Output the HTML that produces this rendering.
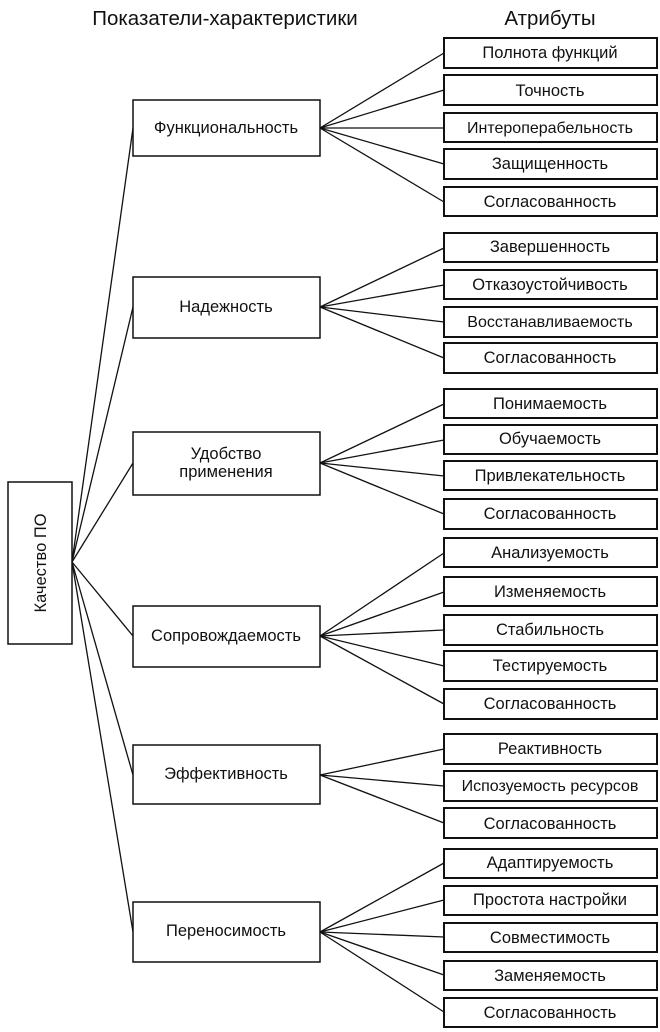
<!DOCTYPE html>
<html><head><meta charset="utf-8"><style>
html,body{margin:0;padding:0;background:#fff}
svg{display:block}
text{font-family:"Liberation Sans",sans-serif;font-size:16.5px;fill:#111;text-anchor:middle}
</style></head><body>
<svg width="660" height="1032" viewBox="0 0 660 1032" xmlns="http://www.w3.org/2000/svg">
<g stroke="#111" stroke-width="1.3" fill="none">
<line x1="72" y1="562" x2="133" y2="128"/>
<line x1="72" y1="562" x2="133" y2="307"/>
<line x1="72" y1="562" x2="133" y2="463"/>
<line x1="72" y1="562" x2="133" y2="636"/>
<line x1="72" y1="562" x2="133" y2="775"/>
<line x1="72" y1="562" x2="133" y2="932"/>
<line x1="320" y1="128" x2="444" y2="53"/>
<line x1="320" y1="128" x2="444" y2="90"/>
<line x1="320" y1="128" x2="444" y2="128"/>
<line x1="320" y1="128" x2="444" y2="164"/>
<line x1="320" y1="128" x2="444" y2="202"/>
<line x1="320" y1="307" x2="444" y2="248"/>
<line x1="320" y1="307" x2="444" y2="285"/>
<line x1="320" y1="307" x2="444" y2="322"/>
<line x1="320" y1="307" x2="444" y2="358"/>
<line x1="320" y1="463" x2="444" y2="404"/>
<line x1="320" y1="463" x2="444" y2="440"/>
<line x1="320" y1="463" x2="444" y2="476"/>
<line x1="320" y1="463" x2="444" y2="514"/>
<line x1="320" y1="636" x2="444" y2="553"/>
<line x1="320" y1="636" x2="444" y2="592"/>
<line x1="320" y1="636" x2="444" y2="630"/>
<line x1="320" y1="636" x2="444" y2="666"/>
<line x1="320" y1="636" x2="444" y2="704"/>
<line x1="320" y1="775" x2="444" y2="749"/>
<line x1="320" y1="775" x2="444" y2="786"/>
<line x1="320" y1="775" x2="444" y2="823"/>
<line x1="320" y1="932" x2="444" y2="863"/>
<line x1="320" y1="932" x2="444" y2="900"/>
<line x1="320" y1="932" x2="444" y2="937"/>
<line x1="320" y1="932" x2="444" y2="975"/>
<line x1="320" y1="932" x2="444" y2="1012"/>
</g>
<g stroke="#111" stroke-width="1.5" fill="#fff">
<rect x="8" y="482" width="64" height="162"/>
<rect x="133" y="100" width="187" height="56"/>
<rect x="133" y="277" width="187" height="61"/>
<rect x="133" y="432" width="187" height="63"/>
<rect x="133" y="606" width="187" height="61"/>
<rect x="133" y="745" width="187" height="59"/>
<rect x="133" y="902" width="187" height="60"/>
</g>
<g stroke="#111" stroke-width="2" fill="#fff">
<rect x="444" y="38" width="213" height="30"/>
<rect x="444" y="75" width="213" height="30"/>
<rect x="444" y="113" width="213" height="29"/>
<rect x="444" y="149" width="213" height="30"/>
<rect x="444" y="187" width="213" height="29"/>
<rect x="444" y="233" width="213" height="29"/>
<rect x="444" y="270" width="213" height="29"/>
<rect x="444" y="307" width="213" height="30"/>
<rect x="444" y="343" width="213" height="30"/>
<rect x="444" y="389" width="213" height="29"/>
<rect x="444" y="425" width="213" height="29"/>
<rect x="444" y="461" width="213" height="29"/>
<rect x="444" y="499" width="213" height="30"/>
<rect x="444" y="538" width="213" height="29"/>
<rect x="444" y="577" width="213" height="29"/>
<rect x="444" y="615" width="213" height="30"/>
<rect x="444" y="651" width="213" height="30"/>
<rect x="444" y="689" width="213" height="30"/>
<rect x="444" y="734" width="213" height="30"/>
<rect x="444" y="771" width="213" height="30"/>
<rect x="444" y="808" width="213" height="30"/>
<rect x="444" y="849" width="213" height="29"/>
<rect x="444" y="886" width="213" height="29"/>
<rect x="444" y="923" width="213" height="29"/>
<rect x="444" y="961" width="213" height="29"/>
<rect x="444" y="998" width="213" height="29"/>
</g>
<text x="225" y="25" style="font-size:20.5px">Показатели-характеристики</text>
<text x="550" y="25" style="font-size:20.5px">Атрибуты</text>
<text transform="translate(46,563) rotate(-90)">Качество  ПО</text>
<text x="226" y="133">Функциональность</text>
<text x="226" y="312">Надежность</text>
<text x="226" y="459">Удобство</text>
<text x="226" y="477">применения</text>
<text x="226" y="641">Сопровождаемость</text>
<text x="226" y="779">Эффективность</text>
<text x="226" y="936">Переносимость</text>
<g>
<text x="550" y="58">Полнота функций</text>
<text x="550" y="96">Точность</text>
<text x="550" y="133" style="font-size:16px">Интероперабельность</text>
<text x="550" y="169">Защищенность</text>
<text x="550" y="207">Согласованность</text>
<text x="550" y="252">Завершенность</text>
<text x="550" y="290">Отказоустойчивость</text>
<text x="550" y="327" style="font-size:16px">Восстанавливаемость</text>
<text x="550" y="363">Согласованность</text>
<text x="550" y="409">Понимаемость</text>
<text x="550" y="444">Обучаемость</text>
<text x="550" y="481">Привлекательность</text>
<text x="550" y="519">Согласованность</text>
<text x="550" y="558">Анализуемость</text>
<text x="550" y="597">Изменяемость</text>
<text x="550" y="635">Стабильность</text>
<text x="550" y="671">Тестируемость</text>
<text x="550" y="709">Согласованность</text>
<text x="550" y="754">Реактивность</text>
<text x="550" y="791" style="font-size:16px">Испозуемость  ресурсов</text>
<text x="550" y="829">Согласованность</text>
<text x="550" y="868">Адаптируемость</text>
<text x="550" y="905">Простота настройки</text>
<text x="550" y="943">Совместимость</text>
<text x="550" y="981">Заменяемость</text>
<text x="550" y="1018">Согласованность</text>
</g>
</svg>
</body></html>
